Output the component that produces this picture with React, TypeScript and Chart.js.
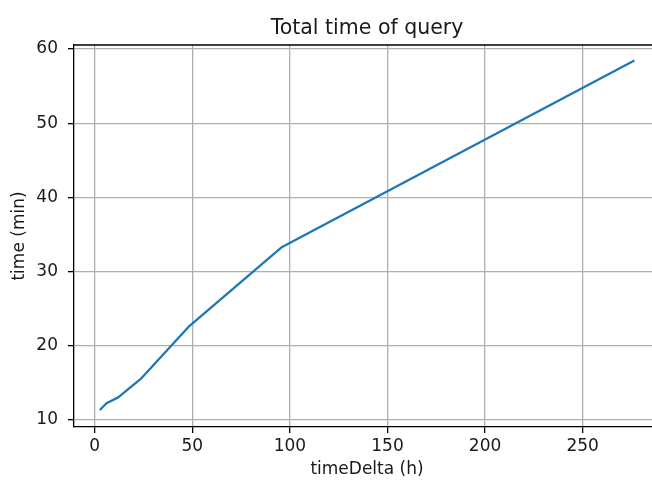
import React, { useEffect, useRef } from "react";
import { Chart, registerables } from "chart.js";

Chart.register(...registerables);

const chartTitle = "Total time of query";
const xAxisLabel = "timeDelta (h)";
const yAxisLabel = "time (min)";
const timeDeltaHours = [3, 6, 12, 24, 48, 96, 276];
const queryMinutes = [11.4, 12.2, 13.0, 15.6, 22.5, 33.3, 58.4];
const xTickValues = [0, 50, 100, 150, 200, 250];
const yTickValues = [10, 20, 30, 40, 50, 60];

const FONT = "'DejaVu Sans', sans-serif";
const TEXT = "#1a1a1a";

const framePlugin = {
  id: "frame",
  afterDraw(chart: any) {
    const { ctx, chartArea } = chart;
    ctx.save();
    ctx.strokeStyle = "#000";
    ctx.lineWidth = 1.3;
    ctx.beginPath();
    ctx.moveTo(chartArea.left, chartArea.top);
    ctx.lineTo(chartArea.right, chartArea.top);
    ctx.lineTo(chartArea.right, chartArea.bottom);
    ctx.stroke();
    ctx.fillStyle = TEXT;
    ctx.font = `20.5px ${FONT}`;
    ctx.textAlign = "center";
    ctx.textBaseline = "alphabetic";
    ctx.fillText(chartTitle, (chartArea.left + chartArea.right) / 2, 34);
    ctx.restore();
  },
};

export default function App() {
  const ref = useRef<HTMLCanvasElement>(null);
  useEffect(() => {
    if (!ref.current) return;
    const points = timeDeltaHours.map((x, i) => ({ x, y: queryMinutes[i] }));
    const chart = new Chart(ref.current, {
      type: "line",
      data: {
        datasets: [
          {
            data: points,
            borderColor: "#1f77b4",
            borderWidth: 2.3,
            pointRadius: 0,
            tension: 0,
            borderCapStyle: "square",
            borderJoinStyle: "round",
          },
        ],
      },
      options: {
        animation: false,
        responsive: true,
        maintainAspectRatio: false,
        layout: { padding: { top: 45, right: 40, bottom: 0, left: 0 } },
        plugins: {
          legend: { display: false },
          tooltip: { enabled: false },
          title: { display: false },
        },
        scales: {
          x: {
            type: "linear",
            min: -10.65,
            max: 289.65,
            afterFit: (s: any) => {
              s.height = 53;
            },
            afterBuildTicks: (s: any) => {
              s.ticks = xTickValues.map((v) => ({ value: v }));
            },
            ticks: {
              padding: 3,
              color: TEXT,
              font: { family: FONT, size: 17 },
              maxRotation: 0,
              autoSkip: false,
            },
            grid: {
              color: "#b0b0b0",
              lineWidth: 1.3,
              tickColor: "#000",
              tickLength: 6,
              tickWidth: 1.3,
            },
            border: { display: true, color: "#000", width: 1.3 },
            title: {
              display: true,
              text: xAxisLabel,
              color: TEXT,
              font: { family: FONT, size: 17 },
              padding: { top: 0, bottom: 0 },
            },
          },
          y: {
            type: "linear",
            min: 9.0,
            max: 60.55,
            afterFit: (s: any) => {
              s.width = 74;
            },
            afterBuildTicks: (s: any) => {
              s.ticks = yTickValues.map((v) => ({ value: v }));
            },
            ticks: {
              padding: 10,
              color: TEXT,
              font: { family: FONT, size: 17 },
              autoSkip: false,
            },
            grid: {
              color: "#b0b0b0",
              lineWidth: 1.3,
              tickColor: "#000",
              tickLength: 6,
              tickWidth: 1.3,
            },
            border: { display: true, color: "#000", width: 1.3 },
            title: {
              display: true,
              text: yAxisLabel,
              color: TEXT,
              font: { family: FONT, size: 17 },
              padding: { top: 9, bottom: 0 },
            },
          },
        },
      },
      plugins: [framePlugin],
    });
    return () => chart.destroy();
  }, []);
  return (
    <div style={{ position: "fixed", left: 0, top: 0, width: 700, height: 480, background: "#fff" }}>
      <canvas ref={ref} />
    </div>
  );
}
